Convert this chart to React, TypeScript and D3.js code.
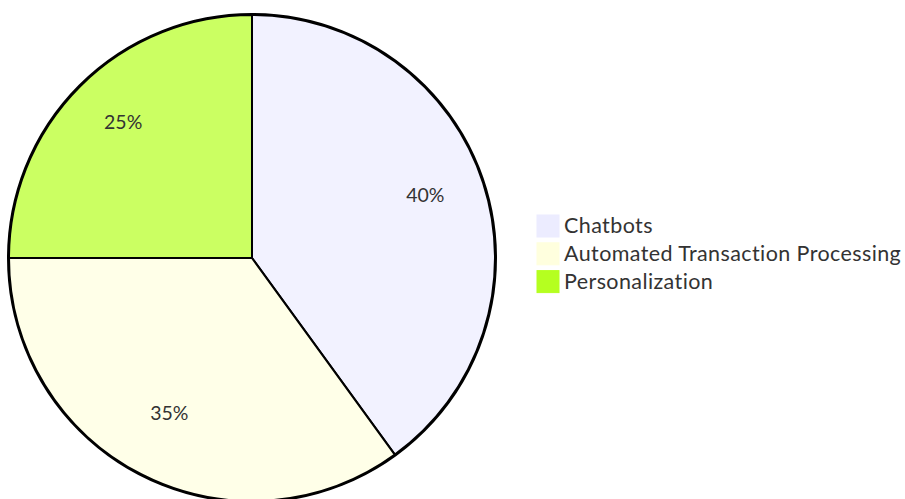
import React from "react";
import * as d3 from "d3";

const categories = ["Chatbots", "Automated Transaction Processing", "Personalization"];
const values = [40, 35, 25];
const colors = ["#ECECFF", "#FFFFDE", "#B5FF20"];

const W = 905;
const H = 499;
const cx = 252;
const cy = 258;
const R = 243;
const FONT = "Lato, 'DejaVu Sans', sans-serif";
const LABEL_FS = 19.5;
const LEGEND_FS = 21.5;

export default function App() {
  const total = d3.sum(values);
  const pie = d3.pie<number>().sort(null).value((d) => d);
  const arcs = pie(values);
  const arc = d3.arc<d3.PieArcDatum<number>>().innerRadius(0).outerRadius(R);
  const labelArc = d3
    .arc<d3.PieArcDatum<number>>()
    .innerRadius(R * 0.75)
    .outerRadius(R * 0.75);

  const legendX = 537;
  const legendY0 = 215;
  const legendStep = 27.8;
  const rect = 22;

  return (
    <svg
      width={W}
      height={H}
      style={{ position: "absolute", left: 0, top: 0, background: "#fff" }}
    >
      <g transform={`translate(${cx},${cy})`}>
        <circle r={R + 1} fill="none" stroke="#000" strokeWidth={2} />
        {arcs.map((a, i) => (
          <path
            key={i}
            d={arc(a) || ""}
            fill={colors[i]}
            fillOpacity={0.7}
            stroke="#000"
            strokeWidth={2}
          />
        ))}
        {arcs.map((a, i) => {
          const [x, y] = labelArc.centroid(a);
          return (
            <text
              key={"l" + i}
              x={x}
              y={y}
              textAnchor="middle"
              fontFamily={FONT}
              fontSize={LABEL_FS}
              fill="#333"
            >
              {`${Math.round((values[i] / total) * 100)}%`}
            </text>
          );
        })}
      </g>
      {categories.map((c, i) => (
        <g key={"g" + i} transform={`translate(${legendX},${legendY0 + i * legendStep})`}>
          <rect width={rect} height={rect} fill={colors[i]} stroke={colors[i]} />
          <text
            x={rect + 5}
            y={18}
            fontFamily={FONT}
            fontSize={LEGEND_FS}
            letterSpacing={0.4}
            fill="#333"
          >
            {c}
          </text>
        </g>
      ))}
    </svg>
  );
}
